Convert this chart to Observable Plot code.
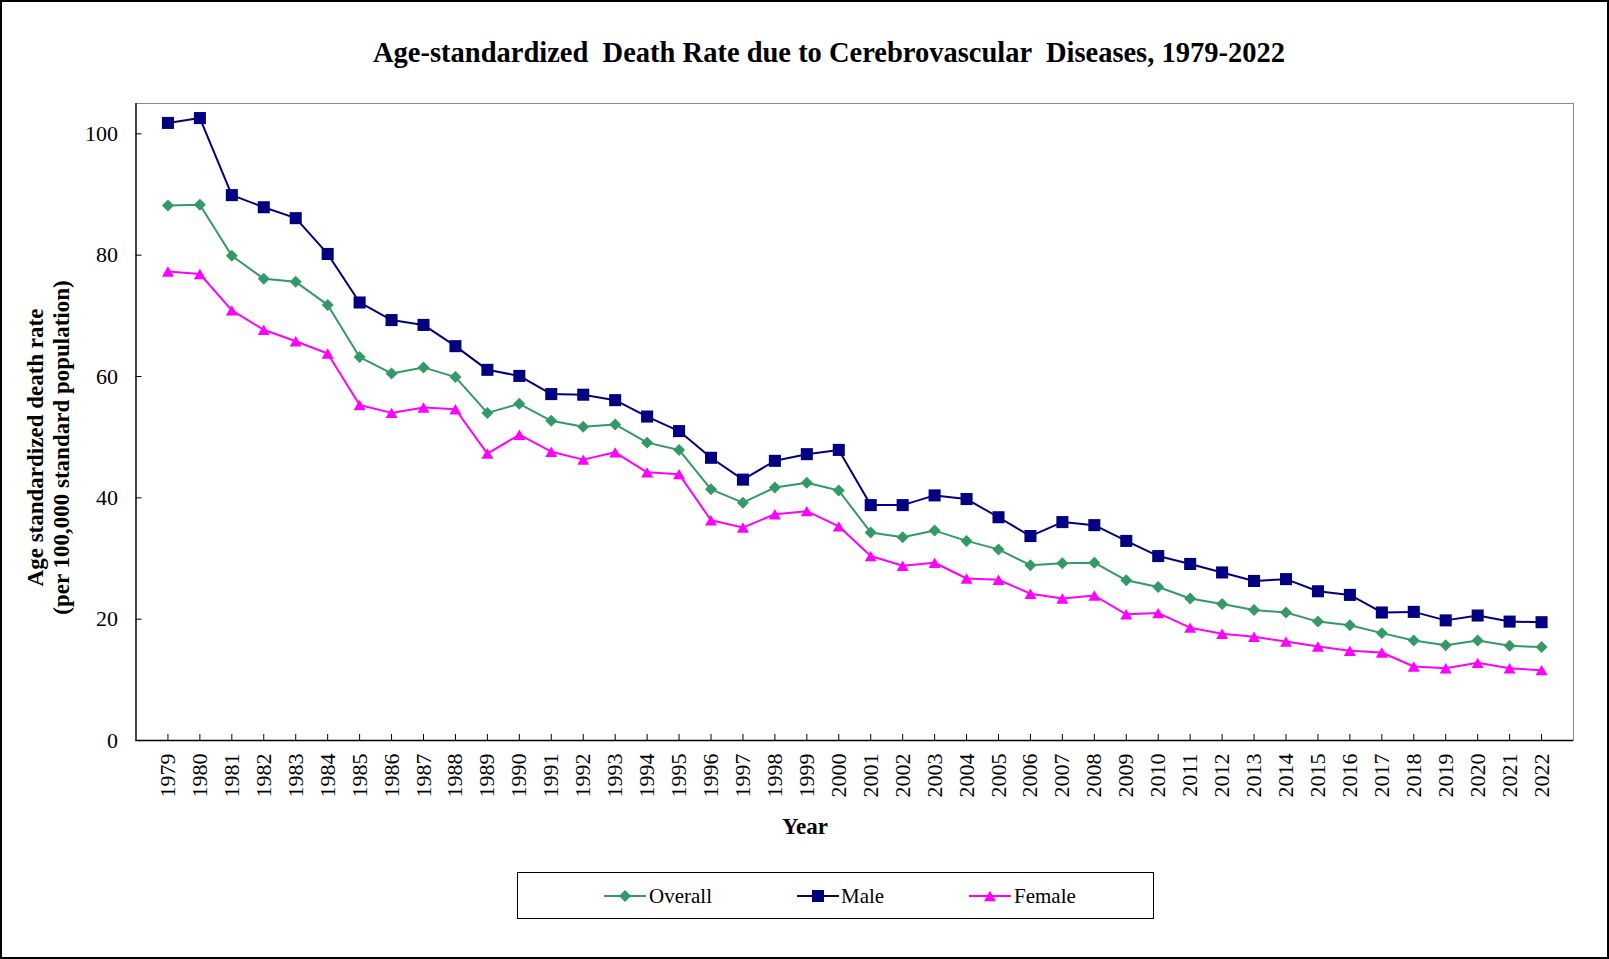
<!DOCTYPE html>
<html>
<head>
<meta charset="utf-8">
<script src="https://cdn.jsdelivr.net/npm/d3@7"></script>
<script src="https://cdn.jsdelivr.net/npm/@observablehq/plot@0.6"></script>
<style>
  html, body { margin: 0; padding: 0; background: white; overflow: hidden; }
  #page { position: relative; width: 1609px; height: 959px; background: white; font-family: "Liberation Serif", "Times New Roman", serif; }
  #border { position: absolute; left: 0; top: 0; width: 1609px; height: 959px; box-sizing: border-box; border: 2px solid #000; pointer-events: none; z-index: 5; }
  #titlebox { position: relative; height: 93px; }
  #title { position: absolute; left: 829px; top: 53px; transform: translate(-50%, -50%); white-space: pre; font-weight: bold; font-size: 28.5px; color: #000; }
  #chart svg { display: block; }
  #legendwrap { position: relative; height: 96px; }
  #legend { position: absolute; left: 517px; top: 9px; width: 637px; height: 47px; box-sizing: border-box; border: 1px solid #000; }
  .item { position: absolute; top: 0; height: 45px; }
  .item svg { position: absolute; top: 13px; }
  .item span { position: absolute; top: 23px; transform: translateY(-50%); font-size: 21px; white-space: nowrap; color: #000; }
</style>
</head>
<body>
<div id="page">
  <div id="border"></div>
  <div id="titlebox"><div id="title"></div></div>
  <div id="chart"></div>
  <div id="legendwrap"><div id="legend"></div></div>
</div>
<script>
const titleText = "Age-standardized  Death Rate due to Cerebrovascular  Diseases, 1979-2022";
const xTitle = "Year";
const yTitle = "Age standardized death rate\n(per 100,000 standard population)";

const years = [1979,1980,1981,1982,1983,1984,1985,1986,1987,1988,1989,1990,1991,1992,1993,1994,1995,1996,1997,1998,1999,2000,2001,2002,2003,2004,2005,2006,2007,2008,2009,2010,2011,2012,2013,2014,2015,2016,2017,2018,2019,2020,2021,2022];
const overall = [88.2,88.3,79.9,76.1,75.6,71.8,63.2,60.5,61.5,59.9,54.0,55.5,52.7,51.7,52.1,49.1,47.9,41.4,39.2,41.7,42.5,41.2,34.3,33.5,34.6,32.9,31.5,28.9,29.2,29.3,26.4,25.3,23.4,22.5,21.5,21.1,19.6,19.0,17.7,16.5,15.7,16.5,15.6,15.4];
const male = [101.8,102.6,89.9,87.9,86.1,80.2,72.2,69.3,68.5,65.0,61.1,60.1,57.1,57.0,56.1,53.4,51.0,46.6,43.0,46.1,47.2,47.9,38.8,38.8,40.4,39.8,36.8,33.7,36.0,35.5,32.9,30.4,29.1,27.7,26.3,26.6,24.6,24.0,21.1,21.2,19.8,20.6,19.6,19.5];
const female = [77.3,76.9,70.9,67.7,65.8,63.8,55.3,54.0,54.9,54.6,47.3,50.4,47.6,46.3,47.5,44.2,43.9,36.3,35.1,37.3,37.8,35.3,30.4,28.8,29.3,26.7,26.5,24.2,23.4,23.9,20.8,21.0,18.6,17.6,17.1,16.3,15.5,14.8,14.5,12.2,11.9,12.8,11.9,11.6];
const seriesNames = ["Overall", "Male", "Female"];
const yTicks = [0, 20, 40, 60, 80, 100];

const colors = {Overall: "#339966", Male: "#000080", Female: "#ff00ff"};
const symbols = {Overall: "diamond2", Male: "square", Female: "triangle"};
const radii = {Overall: 5.4, Male: 6.8, Female: 4.45};
const triShift = 1.73;

const seriesValues = {Overall: overall, Male: male, Female: female};
const rows = seriesNames.flatMap(s => years.map((y, i) => ({year: y, value: seriesValues[s][i], series: s})));

document.getElementById("title").textContent = titleText;

const W = 1609, H = 770;
const mL = 135.5, mR = 36, mT = 10, mB = 123;
const plotW = W - mL - mR, plotH = H - mT - mB;
const font = "'Liberation Serif', 'Times New Roman', serif";

const marks = [
  Plot.frame({stroke: "#8c8c8c", strokeWidth: 1}),
  Plot.axisY({ticks: yTicks, tickSize: 0, tickPadding: 18, fontSize: 22, label: null, tickFormat: d => String(d)}),
  Plot.axisX({ticks: years, tickSize: 0, tickPadding: 13, tickRotate: -90, fontSize: 22, label: null, tickFormat: d => String(d)}),
  Plot.tickX(years, {x: d => d, insetTop: plotH - 6, stroke: "#000", strokeWidth: 1}),
  Plot.tickY(yTicks, {y: d => d, insetRight: plotW - 6, stroke: "#000", strokeWidth: 1}),
  Plot.ruleY([0], {stroke: "#000", strokeWidth: 1.3}),
  Plot.ruleX([1978], {stroke: "#000", strokeWidth: 1.3})
];
for (const s of seriesNames) {
  const data = rows.filter(d => d.series === s);
  marks.push(Plot.line(data, {x: "year", y: "value", stroke: colors[s], strokeWidth: 2}));
}
for (const s of seriesNames) {
  const data = rows.filter(d => d.series === s);
  marks.push(Plot.dot(data, {x: "year", y: "value", symbol: symbols[s], r: radii[s], fill: colors[s], stroke: "none", dy: s === "Female" ? triShift : 0}));
}
marks.push(Plot.text([xTitle], {frameAnchor: "bottom", text: d => d, dx: -49.75, dy: 86, lineAnchor: "middle", fontSize: 23, fontWeight: "bold"}));
marks.push(Plot.text([yTitle], {frameAnchor: "left", text: d => d, rotate: -90, dx: -88, dy: 25.5, lineAnchor: "middle", textAnchor: "middle", lineHeight: 1.13, fontSize: 23, fontWeight: "bold"}));

const chart = Plot.plot({
  width: W, height: H,
  marginTop: mT, marginLeft: mL, marginRight: mR, marginBottom: mB,
  x: {type: "linear", domain: [1978, 2023], axis: null},
  y: {domain: [0, 105], axis: null},
  style: {fontFamily: font, background: "transparent", color: "#000", overflow: "visible"},
  marks
});
document.getElementById("chart").appendChild(chart);

// legend
const legend = document.getElementById("legend");
const items = [
  {name: "Overall", lineLeft: 86, textLeft: 131},
  {name: "Male", lineLeft: 279, textLeft: 323},
  {name: "Female", lineLeft: 451, textLeft: 496}
];
const symGen = {Overall: d3.symbolDiamond2, Male: d3.symbolSquare, Female: d3.symbolTriangle};
for (const it of items) {
  const div = document.createElement("div");
  div.className = "item";
  div.style.left = it.lineLeft + "px";
  const svg = d3.create("svg").attr("width", 42).attr("height", 20);
  svg.append("line").attr("x1", 0).attr("x2", 42).attr("y1", 10).attr("y2", 10)
    .attr("stroke", colors[it.name]).attr("stroke-width", 2);
  const r = radii[it.name];
  svg.append("path").attr("d", d3.symbol(symGen[it.name], r * r * Math.PI)())
    .attr("transform", `translate(21,${it.name === "Female" ? 10 + triShift : 10})`)
    .attr("fill", colors[it.name]);
  div.appendChild(svg.node());
  const span = document.createElement("span");
  span.textContent = it.name;
  span.style.left = (it.textLeft - it.lineLeft) + "px";
  div.appendChild(span);
  legend.appendChild(div);
}
</script>
</body>
</html>
